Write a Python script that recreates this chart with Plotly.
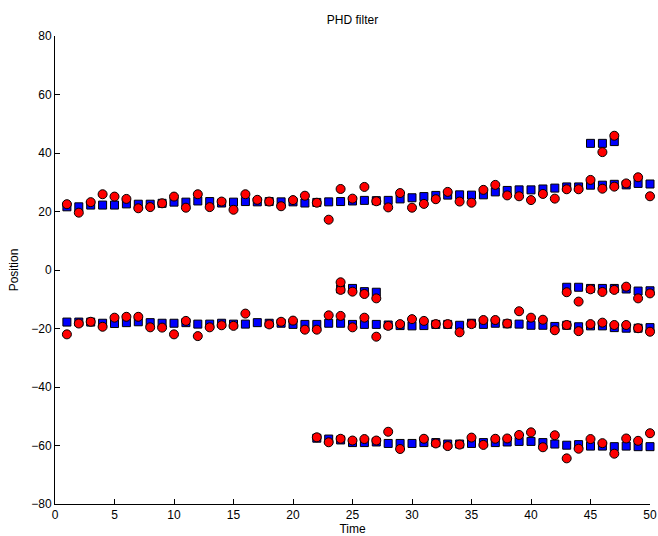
import plotly.graph_objects as go

# Time steps
time = list(range(1, 51))

# Upper track (t = 1..50): true positions and filter estimates
upper_true = [21.6, 21.6, 22.2, 22.2, 22.2, 22.6, 22.5, 22.5, 22.8, 23.2,
              23.2, 23.6, 23.4, 22.9, 23.2, 23.4, 23.3, 23.4, 23.3, 23.3,
              22.9, 23.1, 23.3, 23.4, 23.6, 23.8, 23.7, 23.8, 24.3, 24.7,
              25.1, 25.5, 25.6, 25.7, 25.6, 25.7, 26.7, 27.2, 27.4, 27.4,
              27.7, 28.0, 28.4, 28.4, 29.0, 29.0, 29.3, 29.1, 29.6, 29.4]
upper_est = [22.5, 19.6, 23.2, 25.9, 25.1, 24.3, 21.1, 21.5, 22.8, 25.1,
             21.3, 25.9, 21.5, 23.4, 20.6, 25.9, 24.0, 23.4, 21.8, 23.9,
             25.4, 23.0, 17.2, 27.7, 24.4, 28.4, 23.5, 21.4, 26.3, 21.3,
             22.6, 24.2, 26.7, 23.4, 23.0, 27.4, 29.1, 25.5, 25.2, 23.9,
             26.0, 24.4, 27.6, 27.6, 30.8, 27.8, 28.5, 29.6, 31.7, 25.2]

# Short-lived high track
high_time = [45, 46, 47]
high_true = [43.3, 43.3, 43.9]
high_est_time = [46, 47]
high_est = [40.3, 45.9]

# Middle track (t = 1..50); None = no estimate at that step
mid_true = [-17.8, -17.8, -17.8, -18.2, -18.3, -18.0, -17.7, -18.0, -18.2, -18.2,
            -18.0, -18.5, -18.5, -18.2, -18.5, -18.5, -18.0, -18.2, -18.2, -18.6,
            -18.6, -18.6, -18.2, -18.2, -18.6, -18.6, -18.6, -18.8, -19.0, -19.1,
            -19.0, -18.6, -18.6, -18.9, -18.2, -18.6, -18.2, -18.4, -18.5, -18.9,
            -18.9, -19.3, -18.9, -19.4, -19.1, -19.1, -19.7, -19.9, -19.9, -19.7]
mid_est = [-22.0, -18.3, -17.7, -19.4, -16.3, -16.0, -16.0, -19.6, -19.7, -22.0,
           -17.4, -22.6, -19.6, -18.9, -19.1, -14.9, None, -18.6, -17.7, -17.3,
           -20.4, -20.4, -15.5, -15.7, -19.6, -16.3, -22.8, -19.1, -18.5, -16.8,
           -17.4, -18.5, -18.5, -21.3, -18.5, -17.1, -17.1, -18.3, -14.1, -16.3,
           -17.0, -20.6, -18.8, -20.9, -18.5, -18.0, -18.8, -18.8, -19.9, -21.1]

# Track born at t = 24, dies after t = 27
spawn1_time = [24, 25, 26, 27]
spawn1_true = [-6.5, -6.3, -7.4, -7.6]
spawn1_est = [-6.8, -7.4, -8.2, -9.7]
spawn1_extra_time = [24]
spawn1_extra_est = [-4.2]

# Track born at t = 43
spawn2_time = [43, 44, 45, 46, 47, 48, 49, 50]
spawn2_true = [-5.9, -5.9, -6.3, -6.3, -6.3, -6.5, -7.2, -7.1]
spawn2_est = [-7.6, -10.8, -6.6, -7.5, -6.8, -5.7, -9.7, -8.0]

# Lower track (t = 22..50)
lower_time = list(range(22, 51))
lower_true = [-57.5, -57.8, -58.1, -59.0, -59.0, -58.8, -59.3, -59.3, -59.3, -59.0,
              -59.0, -59.5, -59.5, -59.3, -59.0, -59.0, -58.8, -58.6, -58.6, -59.0,
              -59.5, -59.9, -59.7, -60.2, -60.2, -60.4, -60.2, -60.4, -60.4]
lower_est = [-57.2, -58.9, -57.7, -58.3, -57.8, -58.3, -55.3, -61.2, None, -57.7,
             -59.3, -60.2, -59.7, -57.3, -59.8, -57.7, -57.6, -56.4, -55.5, -60.6,
             -56.5, -64.4, -61.1, -57.8, -59.2, -62.8, -57.6, -58.4, -55.8]

FONT = "Liberation Sans, Arial, Helvetica, sans-serif"

true_marker = dict(symbol="square", size=8, color="#0000ff",
                   line=dict(color="#000000", width=1))
est_marker = dict(symbol="circle", size=9, color="#ff0000",
                  line=dict(color="#000000", width=1))

fig = go.Figure()

truth_sets = [
    (time, upper_true), (high_time, high_true), (time, mid_true),
    (spawn1_time, spawn1_true), (spawn2_time, spawn2_true),
    (lower_time, lower_true),
]
est_sets = [
    (time, upper_est), (high_est_time, high_est), (time, mid_est),
    (spawn1_time, spawn1_est), (spawn1_extra_time, spawn1_extra_est),
    (spawn2_time, spawn2_est), (lower_time, lower_est),
]

for xs, ys in truth_sets:
    fig.add_trace(go.Scatter(x=xs, y=ys, mode="markers", marker=true_marker,
                             showlegend=False, cliponaxis=False))
for xs, ys in est_sets:
    fig.add_trace(go.Scatter(x=xs, y=ys, mode="markers", marker=est_marker,
                             showlegend=False, cliponaxis=False))

axis_common = dict(
    showgrid=False, zeroline=False, showline=True, linecolor="#000000",
    linewidth=1, ticks="inside", ticklen=5, tickcolor="#000000",
    tickfont=dict(family=FONT, size=12, color="#000000"), automargin=False,
)

fig.update_layout(
    width=658, height=536,
    margin=dict(l=55, r=8, t=36, b=32),
    paper_bgcolor="white", plot_bgcolor="white",
    font=dict(family=FONT, size=12, color="#000000"),
    title=dict(text="PHD filter", x=0.5, xref="paper", xanchor="center",
               y=1 - 20 / 536, yanchor="middle",
               font=dict(family=FONT, size=12, color="#000000")),
    xaxis=dict(range=[0, 50], tickmode="linear", tick0=0, dtick=5,
               title=dict(text="Time", standoff=4,
                          font=dict(family=FONT, size=12)),
               **axis_common),
    yaxis=dict(range=[-80, 80], tickmode="linear", tick0=-80, dtick=20,
               title=dict(text="Position", standoff=10,
                          font=dict(family=FONT, size=12)),
               **axis_common),
)

fig.write_html("out.html")
